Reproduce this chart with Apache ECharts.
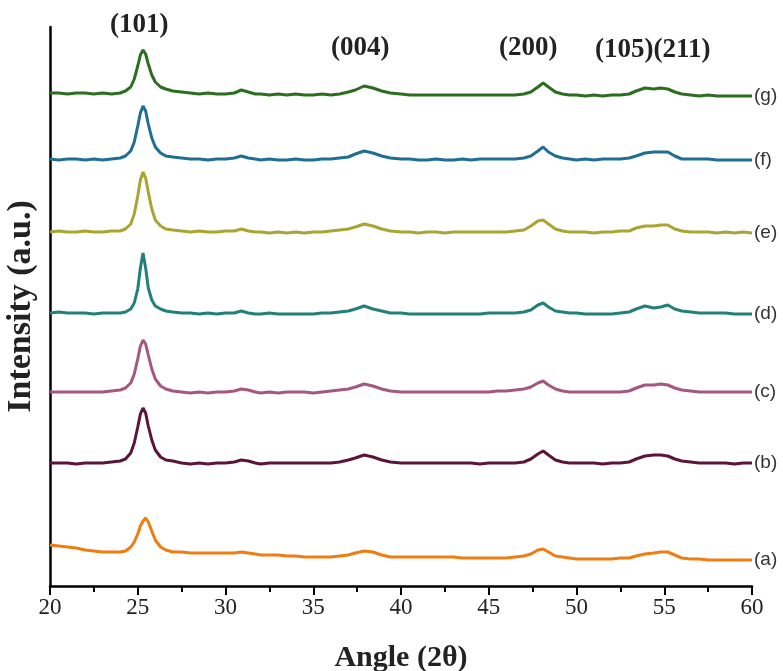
<!DOCTYPE html>
<html>
<head>
<meta charset="utf-8">
<script src="https://cdn.jsdelivr.net/npm/echarts@6/dist/echarts.min.js"></script>
<style>
  html, body { margin: 0; padding: 0; background: #fff; }
  #main { width: 783px; height: 671px; }
</style>
</head>
<body>
<div id="main"></div>
<script>
// 2θ positions (deg), shared by all patterns
var angles = [20,20.5,21,21.5,22,22.5,23,23.5,24,
  24.3,24.6,24.8,25.0,25.15,25.3,25.45,25.6,25.8,26.0,26.3,26.6,
  27,27.5,28,28.5,29,29.5,30,30.5,
  30.9,31.3,31.7,
  32,32.5,33,33.5,34,34.5,35,35.5,36,36.5,37,
  37.4,37.9,38.4,38.9,39.4,
  40,40.5,41,41.5,42,42.5,43,43.5,44,44.5,45,45.5,46,46.5,47,
  47.4,47.8,48.1,48.4,48.8,49.2,49.6,
  50,50.5,51,51.5,52,52.5,53,
  53.4,53.9,54.4,54.8,55.2,55.6,
  56,56.5,57,57.5,58,58.5,59,59.5,60];

// intensities (a.u., stacked as drawn)
var patternG = [493,493,492,493,493,492,493,492,493,
  495,499,507,520,531,536,532,522,511,504,499,497,
  495,494,493,492,493,492,492,493,
  496,494,492,
  492,491,492,491,492,491,491,492,491,492,494,
  496,500,498,495,493,
  492,491,491,491,491,491,491,491,491,491,491,491,491,491,492,
  494,499,503,499,494,492,491,
  491,490,491,490,491,491,492,
  495,498,497,498,497,494,
  492,491,490,491,490,490,490,490,490];

var patternF = [427,426,427,427,426,427,426,427,428,
  430,435,444,460,473,480,475,462,448,439,433,430,
  429,428,427,427,426,427,427,428,
  430,428,427,
  426,427,426,426,427,426,426,427,427,428,429,
  432,435,433,430,428,
  427,427,426,426,427,426,426,427,426,427,427,427,427,427,428,
  430,435,439,434,430,428,427,
  426,427,426,427,427,427,428,
  430,433,434,434,434,430,
  427,427,427,427,426,426,426,426,426];

var patternE = [354,355,354,354,355,354,354,355,355,
  357,362,372,390,406,414,408,394,377,366,360,357,
  356,355,354,355,354,354,355,355,
  357,355,354,
  354,353,354,353,354,353,354,354,355,356,357,
  359,362,360,357,355,
  354,354,353,354,354,353,354,354,354,354,354,354,354,355,356,
  360,365,366,362,357,355,354,
  354,354,353,354,354,355,355,
  358,360,360,361,361,357,
  355,354,354,354,353,354,353,354,353];

var patternD = [273,274,273,273,273,272,273,273,273,
  274,277,283,297,318,333,318,298,286,280,277,275,
  274,273,273,272,273,272,273,273,
  275,273,272,
  272,273,272,272,272,272,272,273,273,274,275,
  277,280,277,275,273,
  273,272,272,272,272,272,272,272,272,272,273,273,273,273,274,
  276,281,283,279,275,274,273,
  273,272,272,272,272,273,274,
  277,280,278,279,281,277,
  275,274,273,273,273,273,272,272,272];

var patternC = [194,194,194,194,194,194,194,195,196,
  198,203,212,227,240,246,242,231,217,207,200,197,
  195,194,193,194,193,194,194,195,
  197,196,194,
  193,194,193,194,194,194,193,194,195,196,197,
  199,202,200,197,195,
  194,194,194,194,194,194,194,194,194,194,194,195,195,196,197,
  199,203,205,201,197,195,194,
  194,194,194,194,194,194,195,
  198,201,201,202,201,198,
  196,195,194,194,194,194,194,194,194];

var patternB = [123,123,123,122,123,123,123,124,125,
  127,133,143,159,172,178,173,160,146,136,129,126,
  125,123,122,123,122,123,123,124,
  126,125,123,
  122,123,123,123,123,123,123,123,123,124,126,
  128,131,129,126,124,
  123,123,123,123,123,123,123,123,123,122,123,123,123,123,124,
  127,132,135,131,126,124,123,
  123,123,123,122,123,123,124,
  127,130,131,131,130,127,
  125,124,123,123,123,123,122,123,123];

var patternA = [41,40,39,38,36,35,34,34,34,
  35,39,44,52,60,65,68,64,55,46,39,36,
  34,34,33,33,33,33,33,33,
  34,33,32,
  31,31,31,30,30,29,29,29,29,30,31,
  33,35,34,31,29,
  29,29,29,29,29,29,29,28,28,28,28,28,28,29,30,
  32,36,37,34,30,29,28,
  27,27,27,27,27,28,28,
  30,32,33,34,34,31,
  28,27,27,26,26,26,26,26,26];

var sampleNames = ['(a)','(b)','(c)','(d)','(e)','(f)','(g)'];
var sampleColors = ['#ee7d12','#5c1538','#a5587f','#22807c','#aaa531','#1f6f95','#2b6e1f'];
var patterns = [patternA, patternB, patternC, patternD, patternE, patternF, patternG];

var xTicks = [20,25,30,35,40,45,50,55,60];
var planeLabels = ['(101)','(004)','(200)','(105)(211)'];

var chart = echarts.init(document.getElementById('main'), null, { renderer: 'canvas' });

var series = patterns.map(function (p, i) {
  return {
    name: sampleNames[i],
    type: 'line',
    showSymbol: false,
    symbol: 'none',
    data: angles.map(function (a, k) { return [a, p[k]]; }),
    lineStyle: { color: sampleColors[i], width: 3 },
    itemStyle: { color: sampleColors[i] },
    endLabel: {
      show: true,
      formatter: sampleNames[i],
      distance: 2,
      fontSize: 19,
      fontFamily: 'Liberation Sans',
      color: '#333'
    },
    silent: true
  };
});

var serifBold = 'bold 27px "Liberation Serif"';

var option = {
  animation: false,
  backgroundColor: '#fff',
  grid: { left: 50, right: 31, top: 27, bottom: 85, containLabel: false, outerBoundsMode: 'none' },
  xAxis: {
    type: 'value',
    min: xTicks[0],
    max: xTicks[xTicks.length - 1],
    interval: 5,
    name: 'Angle (2θ)',
    nameLocation: 'middle',
    nameGap: 57,
    nameTextStyle: { fontFamily: 'Liberation Serif', fontWeight: 'bold', fontSize: 30, color: '#222' },
    axisLine: { show: true, lineStyle: { color: '#000', width: 2.5 } },
    axisTick: { show: true, inside: false, length: 9, lineStyle: { color: '#000', width: 2 } },
    minorTick: { show: true, splitNumber: 2, length: 6, lineStyle: { color: '#000', width: 2 } },
    axisLabel: { fontFamily: 'Liberation Serif', fontSize: 23, color: '#222', margin: 10 },
    splitLine: { show: false }
  },
  yAxis: {
    type: 'value',
    min: 0,
    max: 559,
    name: 'Intensity (a.u.)',
    nameLocation: 'middle',
    nameGap: 12,
    nameRotate: 90,
    nameTextStyle: { fontFamily: 'Liberation Serif', fontWeight: 'bold', fontSize: 34, color: '#222' },
    axisLine: { show: true, lineStyle: { color: '#000', width: 2.5 } },
    axisTick: { show: false },
    axisLabel: { show: false },
    splitLine: { show: false }
  },
  graphic: [
    { type: 'text', left: 110, top: 12, style: { text: planeLabels[0], font: serifBold, fill: '#222' } },
    { type: 'text', left: 331, top: 35, style: { text: planeLabels[1], font: serifBold, fill: '#222' } },
    { type: 'text', left: 499, top: 35, style: { text: planeLabels[2], font: serifBold, fill: '#222' } },
    { type: 'text', left: 595, top: 37, style: { text: planeLabels[3], font: serifBold, fill: '#222' } }
  ],
  series: series
};

chart.setOption(option);
</script>
</body>
</html>
